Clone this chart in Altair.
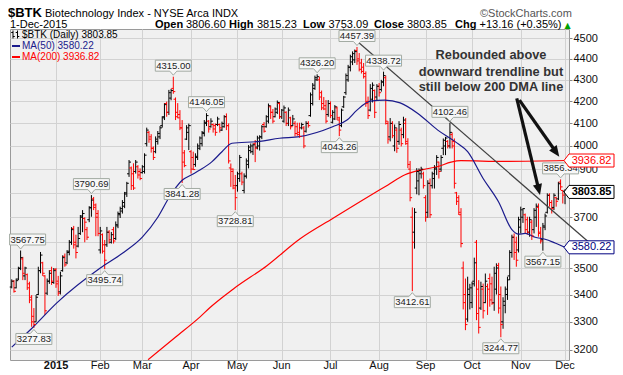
import altair as alt
import pandas as pd

# ---------------- data ----------------
first_index = -20  # bar index 0 = 2-Jan-2015 (trading-day axis)

opens = [
    3428, 3450, 3425, 3458, 3500, 3535, 3470, 3475, 3440, 3390,
    3320, 3300, 3400, 3490, 3520, 3470, 3405, 3450, 3490, 3445,
    3495, 3450, 3410, 3490, 3545, 3520, 3565, 3600, 3655, 3600,
    3585, 3635, 3705, 3695, 3650, 3690, 3740, 3775, 3750, 3715,
    3570, 3630, 3590, 3590, 3640, 3600, 3650, 3615, 3665, 3710,
    3725, 3745, 3800, 3880, 3905, 3880, 3890, 3910, 3890, 3885,
    3890, 4010, 4060, 4040, 3990, 3975, 4020, 4040, 4090, 4130,
    4190, 4150, 4215, 4260, 4210, 4150, 4140, 4080, 3970, 4030,
    4060, 3975, 3950, 3920, 3950, 3990, 4010, 4055, 4100, 4110,
    4085, 4095, 4090, 4095, 4095, 4070, 4085, 4130, 4090, 3905,
    3890, 3820, 3830, 3860, 3880, 3810, 3870, 3920, 3980, 3975,
    4010, 3995, 4000, 4040, 4095, 4085, 4110, 4175, 4150, 4130,
    4150, 4190, 4130, 4110, 4150, 4100, 4125, 4090, 4100, 4085,
    4060, 4080, 4080, 4065, 4100, 4135, 4190, 4260, 4300, 4300,
    4240, 4190, 4180, 4140, 4190, 4105, 4120, 4170, 4115, 4090,
    4175, 4240, 4300, 4360, 4385, 4395, 4440, 4400, 4380, 4360,
    4330, 4200, 4160, 4210, 4250, 4220, 4270, 4255, 4290, 4310,
    4100, 4040, 4100, 4000, 4070, 4020, 4070, 4050, 4100, 4010,
    3900, 3700, 3640, 3820, 3850, 3880, 3880, 3780, 3720, 3840,
    3830, 3860, 3900, 3930, 3900, 3990, 4000, 4020, 4000, 4050,
    4020, 3800, 3780, 3710, 3500, 3400, 3310, 3400, 3370, 3450,
    3600, 3420, 3350, 3420, 3370, 3430, 3460, 3440, 3370, 3420,
    3510, 3400, 3300, 3360, 3400, 3470, 3560, 3620, 3600, 3570,
    3660, 3700, 3710, 3690, 3640, 3680, 3650, 3700, 3740, 3640,
    3610, 3660, 3720, 3790, 3760, 3740, 3780, 3775, 3845, 3810,
    3806.60,
]
highs = [
    3457, 3454, 3460, 3505, 3567.75, 3543, 3505, 3479, 3448, 3398,
    3350, 3398, 3505, 3562, 3524, 3473, 3460, 3492, 3505, 3500,
    3500, 3470, 3486, 3549, 3556, 3569, 3609, 3660, 3665, 3630,
    3661, 3709, 3729, 3700, 3661, 3745, 3790.69, 3783, 3756, 3729,
    3661, 3635, 3609, 3661, 3648, 3641, 3661, 3683, 3723, 3743,
    3770, 3804, 3846, 3939, 3911, 3925, 3939, 3917, 3903, 3917,
    3968, 4081, 4066, 4052, 3998, 4042, 4066, 4088, 4132, 4192,
    4199, 4253, 4258, 4315.00, 4218, 4192, 4160, 4115, 3982, 4092,
    4099, 3982, 3975, 3968, 4011, 4042, 4066, 4115, 4146.05, 4115,
    4123, 4100, 4100, 4130, 4100, 4108, 4137, 4145, 4100, 3924,
    3903, 3875, 3889, 3961, 3889, 3882, 3946, 4004, 4011, 4011,
    4026, 4045, 4047, 4092, 4106, 4137, 4190, 4181, 4165, 4172,
    4204, 4197, 4165, 4181, 4155, 4172, 4130, 4138, 4110, 4103,
    4103, 4103, 4088, 4110, 4110, 4241, 4285, 4320, 4326.20, 4315,
    4250, 4220, 4206, 4206, 4200, 4160, 4183, 4176, 4130, 4167,
    4225, 4330, 4371, 4420, 4436, 4445, 4457.39, 4428, 4400, 4380,
    4340, 4222, 4280, 4288, 4255, 4280, 4285, 4300, 4338.72, 4320,
    4110, 4124, 4110, 4095, 4081, 4110, 4081, 4130, 4124, 4034,
    3935, 3740, 3737, 3904, 3903, 3910, 3889, 3790, 3853, 3860,
    3889, 3917, 3960, 3932, 3960, 4033, 4040, 4026, 4102.46, 4060,
    4033, 3804, 3790, 3737, 3525, 3460, 3467, 3440, 3448, 3540,
    3609, 3454, 3448, 3441, 3479, 3441, 3479, 3467, 3505, 3518,
    3520, 3430, 3390, 3430, 3467, 3569, 3630, 3635, 3622, 3702,
    3743, 3737, 3715, 3702, 3702, 3689, 3737, 3756, 3756, 3661,
    3677, 3715, 3798, 3798, 3770, 3798, 3784, 3846, 3856.34, 3812,
    3815.23,
]
lows = [
    3423, 3407, 3423, 3454, 3492, 3454, 3454, 3417, 3368, 3282,
    3277.83, 3300, 3398, 3480, 3470, 3325, 3398, 3440, 3436, 3440,
    3425, 3395, 3400, 3486, 3505, 3515, 3549, 3590, 3575, 3537,
    3580, 3629, 3640, 3600, 3609, 3680, 3702, 3729, 3624, 3624,
    3556, 3556, 3495.74, 3582, 3595, 3595, 3595, 3609, 3656, 3697,
    3715, 3737, 3783, 3867, 3812, 3812, 3881, 3860, 3853, 3881,
    3881, 3998, 4014, 3971, 3939, 3968, 4006, 4030, 4081, 4115,
    4130, 4138, 4205, 4235, 4115, 4123, 4070, 3841.28, 3908, 4026,
    3982, 3881, 3896, 3910, 3939, 3982, 3998, 4042, 4088, 4059,
    4081, 4059, 4045, 4088, 4059, 4066, 4081, 4070, 3924, 3825,
    3815, 3728.81, 3805, 3846, 3832, 3798, 3860, 3903, 3968, 3961,
    3930, 3985, 3980, 4030, 4059, 4081, 4100, 4120, 4100, 4127,
    4142, 4120, 4120, 4103, 4088, 4088, 4073, 4088, 4042, 4045,
    4036, 4073, 3990, 4059, 4081, 4130, 4181, 4253, 4295, 4206,
    4160, 4160, 4100, 4130, 4124, 4100, 4115, 4115, 4043.26, 4083,
    4170, 4230, 4291, 4340, 4370, 4380, 4371, 4340, 4330, 4306,
    4175, 4120, 4154, 4195, 4124, 4206, 4222, 4245, 4270, 4095,
    4010, 4020, 4034, 3977, 3970, 4005, 3998, 4034, 4005, 3904,
    3765, 3412.61, 3575, 3794, 3790, 3860, 3818, 3682, 3697, 3697,
    3818, 3818, 3875, 3860, 3889, 3960, 3960, 3989, 3989, 3989,
    3818, 3750, 3709, 3580, 3345, 3270, 3300, 3345, 3350, 3430,
    3306, 3258, 3343, 3312, 3368, 3325, 3355, 3362, 3340, 3400,
    3330, 3244.77, 3275, 3331, 3380, 3454, 3540, 3531, 3505, 3560,
    3635, 3677, 3635, 3630, 3622, 3609, 3635, 3661, 3622, 3595,
    3567.15, 3648, 3715, 3743, 3715, 3729, 3743, 3770, 3812, 3756,
    3753.09,
]
closes = [
    3450, 3412, 3452, 3498, 3540, 3480, 3500, 3425, 3380, 3300,
    3290, 3390, 3490, 3550, 3480, 3340, 3450, 3480, 3450, 3490,
    3440, 3405, 3470, 3540, 3512, 3560, 3600, 3650, 3590, 3560,
    3615, 3700, 3715, 3680, 3620, 3738, 3770, 3740, 3700, 3635,
    3645, 3565, 3530, 3640, 3610, 3630, 3605, 3670, 3715, 3735,
    3760, 3795, 3840, 3930, 3830, 3820, 3930, 3875, 3860, 3910,
    3960, 4070, 4030, 3990, 3950, 4030, 4055, 4080, 4125, 4185,
    4150, 4240, 4250, 4245, 4130, 4125, 4080, 3930, 3915, 4080,
    4090, 3900, 3898, 3955, 4000, 4035, 4060, 4105, 4135, 4075,
    4110, 4075, 4060, 4120, 4080, 4100, 4130, 4090, 3935, 3900,
    3830, 3780, 3880, 3950, 3845, 3870, 3935, 3995, 4000, 4005,
    3990, 4035, 4040, 4085, 4065, 4130, 4180, 4150, 4110, 4165,
    4195, 4130, 4160, 4170, 4100, 4160, 4085, 4120, 4055, 4050,
    4042, 4095, 4000, 4100, 4090, 4230, 4275, 4310, 4315, 4220,
    4170, 4165, 4110, 4190, 4135, 4150, 4175, 4125, 4070, 4160,
    4220, 4320, 4360, 4410, 4425, 4435, 4390, 4350, 4340, 4315,
    4190, 4135, 4260, 4275, 4150, 4270, 4240, 4290, 4320, 4110,
    4030, 4100, 4045, 4080, 3990, 4095, 4010, 4115, 4020, 3920,
    3780, 3600, 3720, 3890, 3895, 3900, 3830, 3700, 3840, 3710,
    3880, 3905, 3950, 3890, 3950, 4025, 4035, 4000, 4060, 4000,
    3840, 3765, 3720, 3595, 3370, 3290, 3420, 3425, 3440, 3520,
    3330, 3280, 3430, 3340, 3450, 3420, 3380, 3368, 3480, 3500,
    3350, 3290, 3375, 3420, 3455, 3560, 3620, 3560, 3530, 3690,
    3730, 3735, 3650, 3640, 3690, 3625, 3728, 3745, 3635, 3605,
    3665, 3705, 3790, 3760, 3735, 3790, 3765, 3838, 3825, 3790.69,
    3803.85,
]

ma50_idx = [-20, -11, 0.5, 20, 30, 39, 46, 51.5, 57, 61.5, 65, 70.5, 75, 79.5,
            92, 101, 110, 125, 131.5, 136, 142, 148.5, 155.5, 163.5, 172.5,
            180.5, 186, 193, 200, 206, 209, 212, 216.5, 221, 225.5, 230]
ma50_val = [3210, 3276, 3370, 3500, 3557, 3620, 3700, 3787, 3853, 3877, 3896,
            3932, 3975, 4012, 4020, 4034, 4041, 4085, 4115, 4160, 4201, 4206,
            4193, 4145, 4070, 4018, 3975, 3860, 3762, 3650, 3632, 3635, 3620,
            3612, 3597, 3580.22]
ma200_idx = [41.6, 53.8, 65.1, 69.6, 80, 95.3, 110.3, 125.2, 140.5, 150, 157.7,
             165.8, 172.6, 178.5, 183, 202, 230]
ma200_val = [3166, 3244, 3318, 3352, 3420, 3509, 3614, 3696, 3781, 3833, 3876,
             3898, 3911, 3930, 3936, 3933, 3936.82]

month_idx = [0, 20, 39, 61, 82, 102, 124, 146, 167, 188, 210, 230]
month_lbl = ["2015", "Feb", "Mar", "Apr", "May", "Jun", "Jul", "Aug", "Sep",
             "Oct", "Nov", "Dec"]
price_ticks = [3200, 3300, 3400, 3500, 3600, 3700, 3800, 3900, 4000, 4100,
               4200, 4300, 4400, 4500]

peak_idx = [-16, 16, 53, 68, 118, 136, 148, 178, 228]
peak_val = [3567.75, 3790.69, 4315.00, 4146.05, 4326.20, 4457.39, 4338.72,
            4102.46, 3856.34]
trough_idx = [-10, 22, 57, 81, 128, 161, 201, 220]
trough_val = [3277.83, 3495.74, 3841.28, 3728.81, 4043.26, 3412.61, 3244.77,
              3567.15]

trend_idx = [129.7, 240.4]
trend_val = [4546, 3603]

arrow_id = [1, 1, 2, 2]
arrow_idx = [208.2, 218.0, 209.4, 225.6]
arrow_val = [4214, 3819, 4206, 3978]
head_idx = [218.7, 227.4]
head_val = [3791, 3953]

tag_val = [3936.82, 3803.85, 3580.22]

# ---------------- frames ----------------
n = len(closes)
df = pd.DataFrame({"idx": list(range(first_index, first_index + n)),
                   "open": opens, "high": highs, "low": lows, "close": closes})
df["dir"] = ["up"] + ["up" if c >= p else "down"
                      for p, c in zip(closes[:-1], closes[1:])]

W, H = 559, 331
FONT = "Liberation Sans"
xs = alt.Scale(domain=[-20.79, 231.8], nice=False, zero=False)
ys = alt.Scale(type="log", domain=[3165, 4546], nice=False)
xaxis = alt.Axis(values=month_idx, grid=True, gridColor="#d2d2d2", gridWidth=1,
                 labels=False, ticks=False, domain=False, title=None)
yaxis = alt.Axis(orient="right", values=price_ticks, format="d", grid=True,
                 gridColor="#d2d2d2", gridWidth=1, domain=False, ticks=True,
                 tickSize=3, tickColor="#888888", labelFont=FONT,
                 labelFontSize=11, labelColor="#111111", labelPadding=1,
                 labelOverlap=False, labelFlush=False, labelBound=False,
                 labelExpr="(datum.value == 3800 || datum.value == 3600) ? '' : datum.label",
                 title=None)


def X(f="idx:Q"):
    return alt.X(f, scale=xs, axis=xaxis)


def Y(f="val:Q"):
    return alt.Y(f, scale=ys, axis=yaxis)


col = alt.Color("dir:N", scale=alt.Scale(domain=["up", "down"],
                                         range=["#000000", "#ff0000"]),
                legend=None)

base = alt.Chart(df)
hl = base.mark_rule(strokeWidth=1).encode(x=X(), y=Y("low:Q"), y2="high:Q", color=col)
op = base.mark_rule(strokeWidth=1, xOffset=-2, x2Offset=0).encode(
    x=X(), x2="idx:Q", y=Y("open:Q"), color=col)
cl = base.mark_rule(strokeWidth=1, xOffset=0, x2Offset=2).encode(
    x=X(), x2="idx:Q", y=Y("close:Q"), color=col)

ma200 = alt.Chart(pd.DataFrame({"idx": ma200_idx, "val": ma200_val})).mark_line(
    color="#ff0000", strokeWidth=1.2, clip=True, interpolate="monotone").encode(x=X(), y=Y())
ma50 = alt.Chart(pd.DataFrame({"idx": ma50_idx, "val": ma50_val})).mark_line(
    color="#1a1a8c", strokeWidth=1.2, clip=True, interpolate="monotone").encode(x=X(), y=Y())
trend = alt.Chart(pd.DataFrame({"idx": trend_idx, "val": trend_val})).mark_line(
    color="#404040", strokeWidth=1.2).encode(x=X(), y=Y())

top_path = "M-0.9,-0.825L0.9,-0.825L0.9,-0.275L0.175,-0.275L0,-0.075L-0.175,-0.275L-0.9,-0.275Z"
top_path_r = "M-0.55,-0.825L1.25,-0.825L1.25,-0.275L0.175,-0.275L0,-0.075L-0.175,-0.275L-0.55,-0.275Z"
bot_path = "M-0.9,0.825L0.9,0.825L0.9,0.275L0.175,0.275L0,0.075L-0.175,0.275L-0.9,0.275Z"
pk = pd.DataFrame({"idx": peak_idx, "val": peak_val,
                   "lbl": [f"{v:.2f}" for v in peak_val]})
tr = pd.DataFrame({"idx": trough_idx, "val": trough_val,
                   "lbl": [f"{v:.2f}" for v in trough_val]})
pk_edge = pk.iloc[:1]   # label at the left edge, box nudged right
pk_rest = pk.iloc[1:]
box_style = dict(filled=True, fill="#f7f7f7", stroke="#a2aaa2", strokeWidth=1, opacity=1)
lbl_style = dict(fontSize=9.5, font=FONT, color="#222222", baseline="middle")
pk_box = alt.Chart(pk_rest).mark_point(shape=top_path, size=1600, **box_style).encode(x=X(), y=Y())
pk_txt = alt.Chart(pk_rest).mark_text(dy=-11, **lbl_style).encode(x=X(), y=Y(), text="lbl:N")
pk_box0 = alt.Chart(pk_edge).mark_point(shape=top_path_r, size=1600, **box_style).encode(x=X(), y=Y())
pk_txt0 = alt.Chart(pk_edge).mark_text(dy=-11, dx=7, **lbl_style).encode(x=X(), y=Y(), text="lbl:N")
tr_box = alt.Chart(tr).mark_point(shape=bot_path, size=1600, **box_style).encode(x=X(), y=Y())
tr_txt = alt.Chart(tr).mark_text(dy=11, **lbl_style).encode(x=X(), y=Y(), text="lbl:N")

arrows = alt.Chart(pd.DataFrame({"a": arrow_id, "idx": arrow_idx, "val": arrow_val})).mark_line(
    color="#111111", strokeWidth=3.2, strokeCap="butt").encode(x=X(), y=Y(), detail="a:N")
head_path = "M0,0L-0.42,1L0.42,1Z"
heads = []
for hi, hv, ang in zip(head_idx, head_val, [166.5, 144.8]):
    heads.append(alt.Chart(pd.DataFrame({"idx": [hi], "val": [hv]})).mark_point(
        shape=head_path, size=484, angle=ang, filled=True, color="#111111",
        opacity=1).encode(x=X(), y=Y()))

tag_path = "M-0.917,0L-0.75,-0.217L0.75,-0.217L0.75,0.217L-0.75,0.217Z"
tags = []
for v, c, w in zip(tag_val, ["#ff0000", "#000000", "#000080"], ["normal", "bold", "normal"]):
    d = pd.DataFrame({"val": [v], "lbl": [f"{v:.2f}"]})
    tags.append(alt.Chart(d).mark_point(shape=tag_path, size=3600, filled=True,
                                        fill="#ffffff", stroke=c, strokeWidth=1,
                                        opacity=1).encode(x=alt.value(581.5), y=Y()))
    tags.append(alt.Chart(d).mark_text(fontSize=11, font=FONT, color=c, fontWeight=w,
                                       baseline="middle").encode(
        x=alt.value(581.5), y=Y(), text="lbl:N"))

md = pd.DataFrame({"idx": month_idx, "lbl": month_lbl})
months = alt.Chart(md[md.idx > 0]).mark_text(fontSize=11, font=FONT, color="#111111",
                                             baseline="middle").encode(
    x=X(), y=alt.value(336.5), text="lbl:N")
months0 = alt.Chart(md[md.idx == 0]).mark_text(fontSize=11, font=FONT, color="#111111",
                                               fontWeight="bold", baseline="middle").encode(
    x=X(), y=alt.value(336.5), text="lbl:N")


def txt(s, x, y, size=11, weight="normal", color="#000000", align="left",
        baseline="alphabetic", font=FONT):
    return alt.Chart(pd.DataFrame({"t": [s]})).mark_text(
        align=align, baseline=baseline, fontSize=size, fontWeight=weight,
        color=color, font=font).encode(x=alt.value(x), y=alt.value(y), text="t:N")


def seg(x1, y1, x2, y2, color="#000000", w=1):
    return alt.Chart(pd.DataFrame({"a": [0]})).mark_rule(color=color, strokeWidth=w).encode(
        x=alt.value(x1), x2=alt.value(x2), y=alt.value(y1), y2=alt.value(y2))


L1 = -12
L2 = -1
texts = [
    txt("$BTK", -2, L1, 13, "bold"),
    txt("Biotechnology Index - NYSE Arca INDX", 35, L1, 11),
    txt("\u00a9StockCharts.com", 470, L1, 11, color="#555555"),
    txt("1-Dec-2015", 0, L2, 11),
    txt("Open", 145, L2, 11, "bold"), txt("3806.60", 176, L2, 11),
    txt("High", 219, L2, 11, "bold"), txt("3815.23", 247, L2, 11),
    txt("Low", 293, L2, 11, "bold"), txt("3753.09", 318.5, L2, 11),
    txt("Close", 364, L2, 11, "bold"), txt("3803.85", 397, L2, 11),
    txt("Chg", 445, L2, 11, "bold"), txt("+13.16 (+0.35%)", 469.5, L2, 11),
    txt("\u25b2", 554.5, L2 - 0.5, 8, color="#00a000", font="DejaVu Sans"),
    txt("$BTK (Daily) 3803.85", 12, 5.5, 10, baseline="middle"),
    txt("MA(50) 3580.22", 12, 17, 10, color="#1a1a8c", baseline="middle"),
    txt("MA(200) 3936.82", 12, 28, 10, color="#ff0000", baseline="middle"),
    txt("Rebounded above", 481, 26, 12.8, "bold", "#333333", "center", "middle"),
    txt("downward trendline but", 481, 42.7, 12.8, "bold", "#333333", "center", "middle"),
    txt("still below 200 DMA line", 481, 57.7, 12.8, "bold", "#333333", "center", "middle"),
]
icons = [
    seg(3, 1.5, 3, 9.5), seg(1.2, 3.5, 3, 3.5), seg(3, 7.5, 4.8, 7.5),
    seg(7.5, 1.5, 7.5, 9.5), seg(5.7, 3.5, 7.5, 3.5), seg(7.5, 7.5, 9.3, 7.5),
    seg(2, 17, 10, 17, "#1a1a8c", 2), seg(2, 28, 10, 28, "#ff0000", 2),
]

chart = alt.layer(
    hl, ma200, ma50, trend, op, cl, pk_box, pk_txt, pk_box0, pk_txt0, tr_box, tr_txt,
    arrows, *heads, *tags, months, months0, *texts, *icons
).properties(
    width=W, height=H,
    padding={"left": 2, "top": 21, "right": 46, "bottom": 14},
    autosize=alt.AutoSizeParams(type="none"),
).configure_view(fill="#f0f0f0", stroke="#9a9a9a", strokeWidth=1)

chart.save("out.html", embed_options={"renderer": "svg", "actions": False})
